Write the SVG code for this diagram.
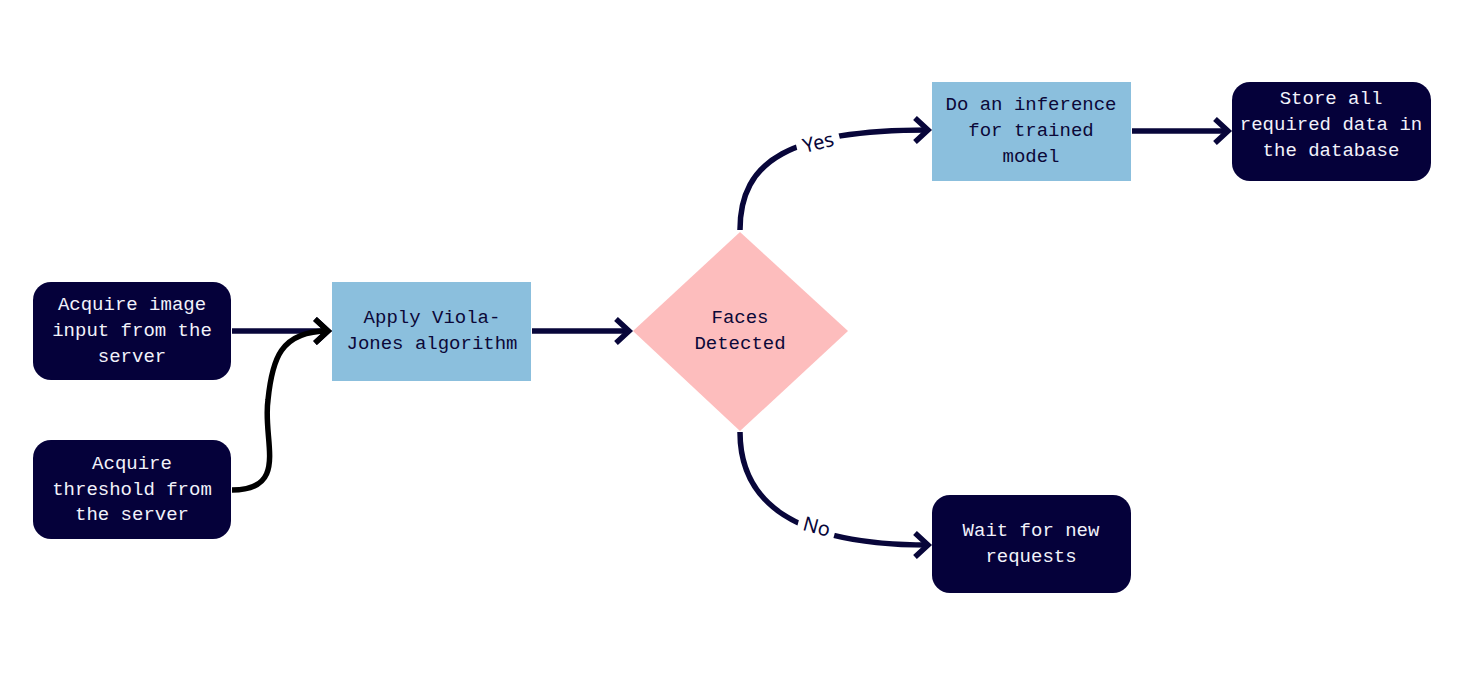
<svg xmlns="http://www.w3.org/2000/svg" width="1462" height="683" viewBox="0 0 1462 683">
<defs>
<style>
.dark{fill:#05013a}
.light{fill:#8bbfdd}
.dia{fill:#fdbdbd}
.t{font-family:"Liberation Mono","DejaVu Sans Mono",monospace;font-size:19px;text-anchor:middle;dominant-baseline:central}
.tw{fill:#f2f2fa}
.td{fill:#0b0838}
.c{fill:none;stroke:#08063a;stroke-width:5.5}
.lbl{font-family:"Noto Sans","DejaVu Sans",sans-serif;font-size:20px;fill:#08063a;text-anchor:middle;dominant-baseline:central}
</style>
<marker id="ah" viewBox="0 0 24 28" refX="17" refY="14" markerWidth="24" markerHeight="28" markerUnits="userSpaceOnUse" orient="auto">
<path d="M4,2 L17,14 L4,26" fill="none" stroke="#08063a" stroke-width="5.5"/>
</marker>
<marker id="ahk" viewBox="0 0 24 28" refX="17" refY="14" markerWidth="24" markerHeight="28" markerUnits="userSpaceOnUse" orient="auto">
<path d="M4,2 L17,14 L4,26" fill="none" stroke="#000" stroke-width="5.5"/>
</marker>
</defs>
<rect width="1462" height="683" fill="#fff"/>
<g id="connectors">
<path class="c" d="M232,331 L328,331" marker-end="url(#ah)"/>
<path d="M232,490 C290,490 262,440 268,400 C272,360 280,331 328,331" fill="none" stroke="#000" stroke-width="5.5" marker-end="url(#ahk)"/>
<path class="c" d="M532,331 L629,331" marker-end="url(#ah)"/>
<path class="c" d="M740,230 C740,160 790,130 928,130" marker-end="url(#ah)"/>
<path class="c" d="M740,432 C740,500 790,545 928,545" marker-end="url(#ah)"/>
<path class="c" d="M1132,131 L1228,131" marker-end="url(#ah)"/>
<g>
<rect x="796" y="127" width="44" height="30" fill="#fff" transform="rotate(-14 818 142)"/>
<text class="lbl" x="818" y="142" transform="rotate(-14 818 142)">Yes</text>
<rect x="798" y="512" width="38" height="30" fill="#fff" transform="rotate(15 817 526)"/>
<text class="lbl" x="817" y="526" transform="rotate(15 817 526)">No</text>
</g>
</g>
<g id="acquire-image">
<rect class="dark" x="33" y="282" width="198" height="98" rx="18"/>
<text class="t tw" x="132" y="305">Acquire image</text>
<text class="t tw" x="132" y="331">input from the</text>
<text class="t tw" x="132" y="357">server</text>
</g>
<g id="acquire-threshold">
<rect class="dark" x="33" y="440" width="198" height="99" rx="18"/>
<text class="t tw" x="132" y="464">Acquire</text>
<text class="t tw" x="132" y="490">threshold from</text>
<text class="t tw" x="132" y="515">the server</text>
</g>
<g id="viola-jones">
<rect class="light" x="332" y="282" width="199" height="99"/>
<text class="t td" x="432" y="318">Apply Viola-</text>
<text class="t td" x="432" y="344">Jones algorithm</text>
</g>
<g id="faces-detected">
<polygon class="dia" points="740,232 848,331 740,431 633,331"/>
<text class="t td" x="740" y="318">Faces</text>
<text class="t td" x="740" y="344">Detected</text>
</g>
<g id="inference">
<rect class="light" x="932" y="82" width="199" height="99"/>
<text class="t td" x="1031" y="105">Do an inference</text>
<text class="t td" x="1031" y="131">for trained</text>
<text class="t td" x="1031" y="157">model</text>
</g>
<g id="store">
<rect class="dark" x="1232" y="82" width="199" height="99" rx="18"/>
<text class="t tw" x="1331" y="99">Store all</text>
<text class="t tw" x="1331" y="125">required data in</text>
<text class="t tw" x="1331" y="151">the database</text>
</g>
<g id="wait">
<rect class="dark" x="932" y="495" width="199" height="98" rx="18"/>
<text class="t tw" x="1031" y="531">Wait for new</text>
<text class="t tw" x="1031" y="557">requests</text>
</g>
</svg>
